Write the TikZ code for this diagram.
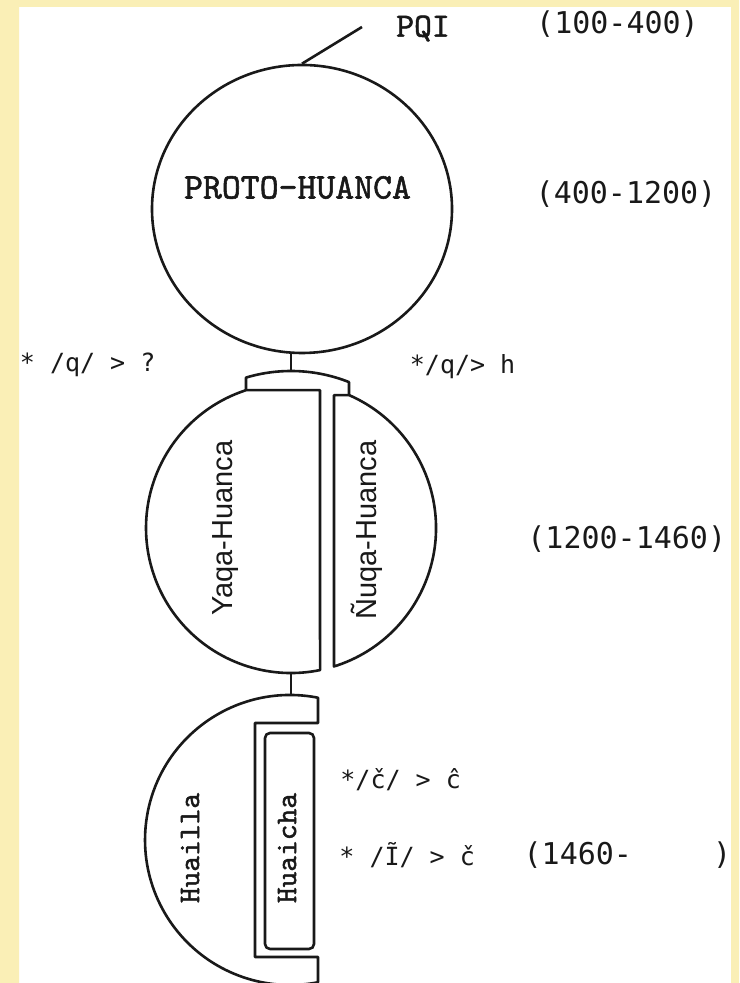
\documentclass[tikz,border=0pt]{standalone}
\usepackage{fontspec}
\usepackage{tikz}
\usetikzlibrary{shapes.geometric, positioning}
\newfontfamily\slabfont{lmmono10-regular.otf}[FakeBold=1.5]
\newfontfamily\gothfont{DejaVu Sans Mono}
\newfontfamily\helvfont{Liberation Sans}
\definecolor{mypaper}{RGB}{250,239,182}
\definecolor{myink}{RGB}{25,25,25}
\tikzset{
  outline/.style={draw=myink, line width=1.3pt, line join=round},
  stem/.style={draw=myink, line width=1.3pt},
  bigname/.style={font=\slabfont\fontsize{18}{20}\selectfont, text=myink, inner sep=0pt},
  subname/.style={font=\helvfont\fontsize{14.5}{17}\selectfont, text=myink, inner sep=0pt, rotate=90},
  dialname/.style={font=\slabfont\fontsize{15}{17}\selectfont, text=myink, inner sep=0pt, rotate=90},
  datelbl/.style={font=\gothfont\fontsize{15}{18}\selectfont, text=myink, inner sep=0pt},
  rulelbl/.style={font=\gothfont\fontsize{12.5}{15}\selectfont, text=myink, inner sep=0pt, anchor=west}
}

\begin{document}
\begin{tikzpicture}[x=0.5pt, y=0.5pt]
  \useasboundingbox (0,0) rectangle (739,983);
  \fill[mypaper] (0,0) rectangle (739,983);
  \fill[white] (19,0) rectangle (731,976);

  % top circle
  \node[ellipse, outline, minimum width=150pt, minimum height=144pt, inner sep=0pt] (proto) at (302,774) {};
  \node[bigname] (protolbl) at (297.5,795.5) {PROTO-HUANCA};
  \node[bigname, font=\slabfont\fontsize{17}{19}\selectfont] (pqi) at (423,954.5) {PQI};
  \coordinate (pqitip) at (362,956);
  \draw[stem] (proto.north) -- (pqitip);

  % middle circle, split in two under a cap
  \coordinate (captop) at (291,612);
  \coordinate (midbot) at (291,310);
  \draw[outline] (320,592.8) -- (246,592.8) arc[start angle=108.1, end angle=281.54, radius=145] -- cycle;
  \draw[outline] (334,587.9) -- (349,587.9) arc[start angle=66.42, end angle=-72.75, radius=145] -- cycle;
  \draw[outline] (246,592.8) -- (246,605.4) arc[start angle=106.66, end angle=68.32, radius=157] -- (349,587.9);
  \draw[stem] (proto.south -| captop) -- (captop);
  \node[subname] (yaqa) at (226,455) {Yaqa-Huanca};
  \node[subname] (nuqa) at (367,453) {Ñuqa-Huanca};

  % bottom half circle
  \coordinate (lowtop) at (291,288);
  \draw[outline] (318,285.27) arc[start angle=78.87, end angle=281.13, radius=145] -- (318,26) -- (255,26) -- (255,260) -- (318,260) -- cycle;
  \node[outline, rounded corners=2.5pt, minimum width=24.5pt, minimum height=108pt, inner sep=0pt] (huaichabox) at (289.5,142) {};
  \draw[stem] (midbot) -- (lowtop);
  \node[dialname] (huailla) at (190,135) {Huailla};
  \node[dialname] (huaicha) at (287,135) {Huaicha};

  % sound changes
  \node[rulelbl] (rqleft) at (19.5,618) {* /q/ > ?};
  \node[rulelbl] (rqright) at (409.5,616) {*/q/> h};
  \node[rulelbl] (rch) at (340,203) {*/č/ > ĉ};
  \node[rulelbl] (rlam) at (339,128) {* /Ĩ/ > č};

  % dates
  \node[datelbl] (d1) at (617.5,958.5) {(100-400)};
  \node[datelbl] (d2) at (626,788.5) {(400-1200)};
  \node[datelbl, anchor=west] (d3) at (527,444) {(1200-1460)};
  \node[datelbl, right=24pt of rlam] (d4) {(1460-\hspace{40.5pt})};

  \fill[mypaper, even odd rule] (0,0) rectangle (739,983) (19,0) rectangle (731,976);
\end{tikzpicture}
\end{document}
